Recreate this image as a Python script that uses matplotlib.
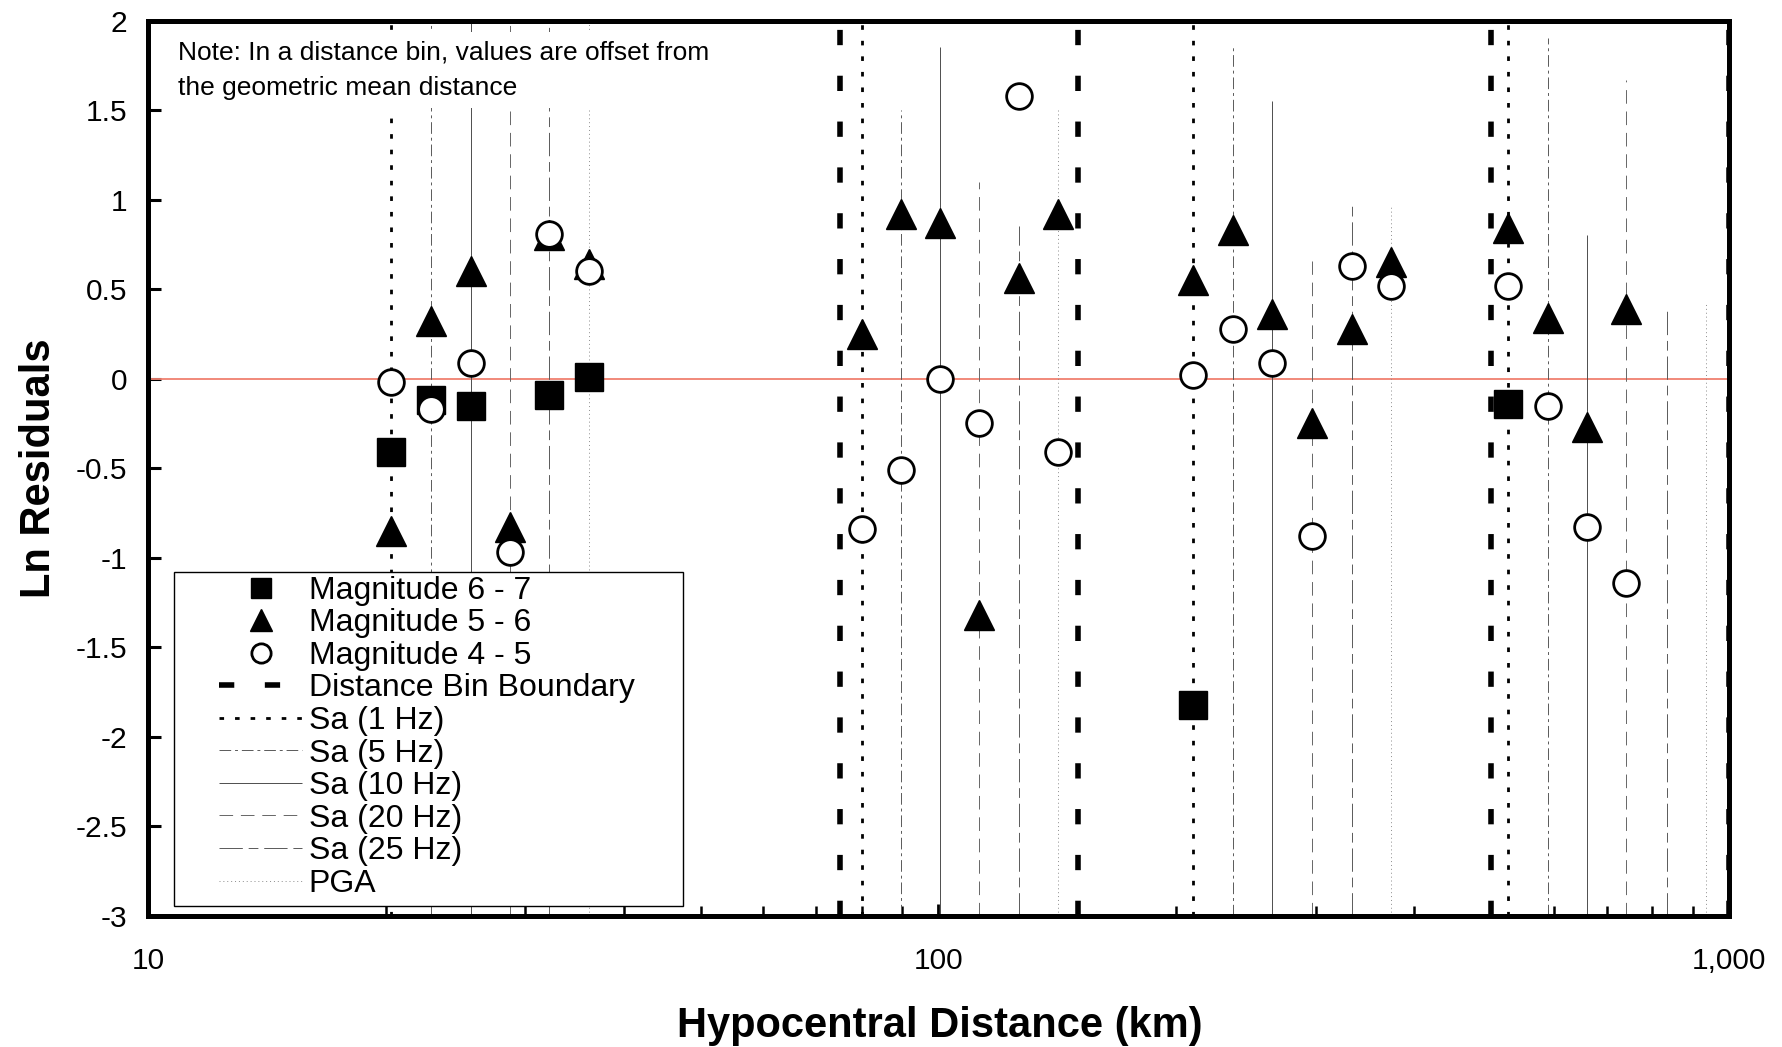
import numpy as np
import matplotlib
matplotlib.use("Agg")
import matplotlib.pyplot as plt
from matplotlib.patches import Rectangle

plt.rcParams['font.family'] = ['Liberation Sans', 'DejaVu Sans']

nan = np.nan

# offset distances (km) inside each bin: 1, 5, 10, 20, 25 Hz and PGA
dist = [20.3, 22.8, 25.6, 28.7, 32.2, 36.1,
        80.0, 89.7, 100.4, 112.5, 126.4, 141.5,
        210.0, 235.6, 264.5, 296.6, 333.2, 373.6,
        526.0, 589.7, 660.7, 740.8, 833.8, 935.0]

mag_6_7 = [-0.41, -0.12, -0.15, nan, -0.09, 0.01,
           nan, nan, nan, nan, nan, nan,
           -1.82, nan, nan, nan, nan, nan,
           -0.14, nan, nan, nan, nan, nan]
mag_5_6 = [-0.85, 0.32, 0.60, -0.83, 0.80, 0.64,
           0.25, 0.92, 0.87, -1.32, 0.56, 0.92,
           0.55, 0.83, 0.36, -0.25, 0.28, 0.65,
           0.84, 0.34, -0.27, 0.39, nan, nan]
mag_4_5 = [-0.02, -0.17, 0.09, -0.97, 0.81, 0.60,
           -0.84, -0.51, 0.0, -0.25, 1.58, -0.41,
           0.02, 0.28, 0.09, -0.88, 0.63, 0.52,
           0.52, -0.15, -0.83, -1.14, nan, nan]

# upper end of the vertical frequency lines
line_top = [2.0, 2.0, 2.0, 2.0, 2.0, 2.0,
            2.0, 1.5, 1.85, 1.1, 0.85, 1.5,
            2.0, 1.85, 1.55, 0.66, 0.97, 0.97,
            2.0, 1.9, 0.8, 1.67, 0.4, 0.42]

bin_edges = [10, 75, 150, 500, 1000]
freq_labels = ['Sa (1 Hz)', 'Sa (5 Hz)', 'Sa (10 Hz)', 'Sa (20 Hz)', 'Sa (25 Hz)', 'PGA']
y_ticks = [-3, -2.5, -2, -1.5, -1, -0.5, 0, 0.5, 1, 1.5, 2]
y_tick_labels = ['-3', '-2.5', '-2', '-1.5', '-1', '-0.5', '0', '0.5', '1', '1.5', '2']
x_ticks = [10, 100, 1000]
x_tick_labels = ['10', '100', '1,000']

note = "Note: In a distance bin, values are offset from\nthe geometric mean distance"

freq_styles = [
    dict(colors='black', linewidths=2.0, linestyles=[(0, (1.65, 3.95))]),
    dict(colors='0.35', linewidths=0.7, linestyles=[(0, (12, 4, 3, 4))]),
    dict(colors='0.3', linewidths=0.7, linestyles=['solid']),
    dict(colors='0.4', linewidths=0.7, linestyles=[(0, (14, 8))]),
    dict(colors='0.35', linewidths=0.7, linestyles=[(0, (24, 6, 10, 6))]),
    dict(colors='0.55', linewidths=0.7, linestyles=[(0, (1, 3))]),
]

fig = plt.figure(figsize=(17.83, 10.47), dpi=100)
ax = fig.add_axes([0.0830, 0.1251, 0.8867, 0.8553])

d = np.array(dist)
top = np.array(line_top)
freq_lines = []
for k, lab in enumerate(freq_labels):
    lc = ax.vlines(d[k::6], -3, top[k::6], label=lab, zorder=2, **freq_styles[k])
    freq_lines.append(lc)

bounds = ax.vlines(bin_edges[1:], -3, 2, colors='black', linewidths=4.0,
                   linestyles=[(0, (2.75, 5.5))], label='Distance Bin Boundary', zorder=2.1)

ax.axhline(0, color='#f08070', lw=1.3, zorder=1.8)

sq, = ax.plot(dist, mag_6_7, 's', ms=20, color='black', label='Magnitude 6 - 7', zorder=3)
tri, = ax.plot(dist, mag_5_6, '^', ms=21.5, color='black', label='Magnitude 5 - 6', zorder=3)
circ, = ax.plot(dist, mag_4_5, 'o', ms=18.5, mfc='white', mec='black', mew=2.0,
                label='Magnitude 4 - 5', zorder=3.1)

ax.set_xscale('log')
ax.set_xlim(10, 1000)
ax.set_ylim(-3, 2)
ax.set_yticks(y_ticks, y_tick_labels)
ax.set_xticks(x_ticks, x_tick_labels)
ax.tick_params(axis='y', which='major', direction='in', length=9, width=2.2, pad=15, labelsize=21.5)
ax.tick_params(axis='x', which='major', direction='in', length=9, width=2.0, pad=22, labelsize=21.5)
ax.tick_params(axis='x', which='minor', direction='in', length=7, width=1.8)
ax.xaxis.set_minor_formatter(matplotlib.ticker.NullFormatter())
for s in ax.spines.values():
    s.set_linewidth(3.6)

ax.set_ylabel('Ln Residuals', fontsize=30, fontweight='bold')
ax.yaxis.set_label_coords(-0.0563, 0.5)
ax.set_xlabel('Hypocentral Distance (km)', fontsize=30, fontweight='bold')
ax.xaxis.set_label_coords(0.5008, -0.1006)

ax.text(0.0192, 0.978, note, transform=ax.transAxes, fontsize=19, va='top', ha='left',
        linespacing=1.6, zorder=2.3,
        bbox=dict(facecolor='white', edgecolor='none', boxstyle='square,pad=0.3'))

# legend box
ax.add_patch(Rectangle((0.0163, 0.011), 0.3386 - 0.0163, 0.384 - 0.011, transform=ax.transAxes,
                       facecolor='white', edgecolor='black', lw=1.0, zorder=4))
handles = [sq, tri, circ, bounds] + freq_lines
leg = ax.legend(handles=handles, labels=[h.get_label() for h in handles],
                loc='upper left', bbox_to_anchor=(0.045, 0.380), frameon=False,
                borderaxespad=0, borderpad=0, fontsize=23, labelspacing=0.08,
                handlelength=2.6, handletextpad=0.2, markerscale=0.75)
leg.set_zorder(5)

fig.savefig('out.png', dpi=100)
